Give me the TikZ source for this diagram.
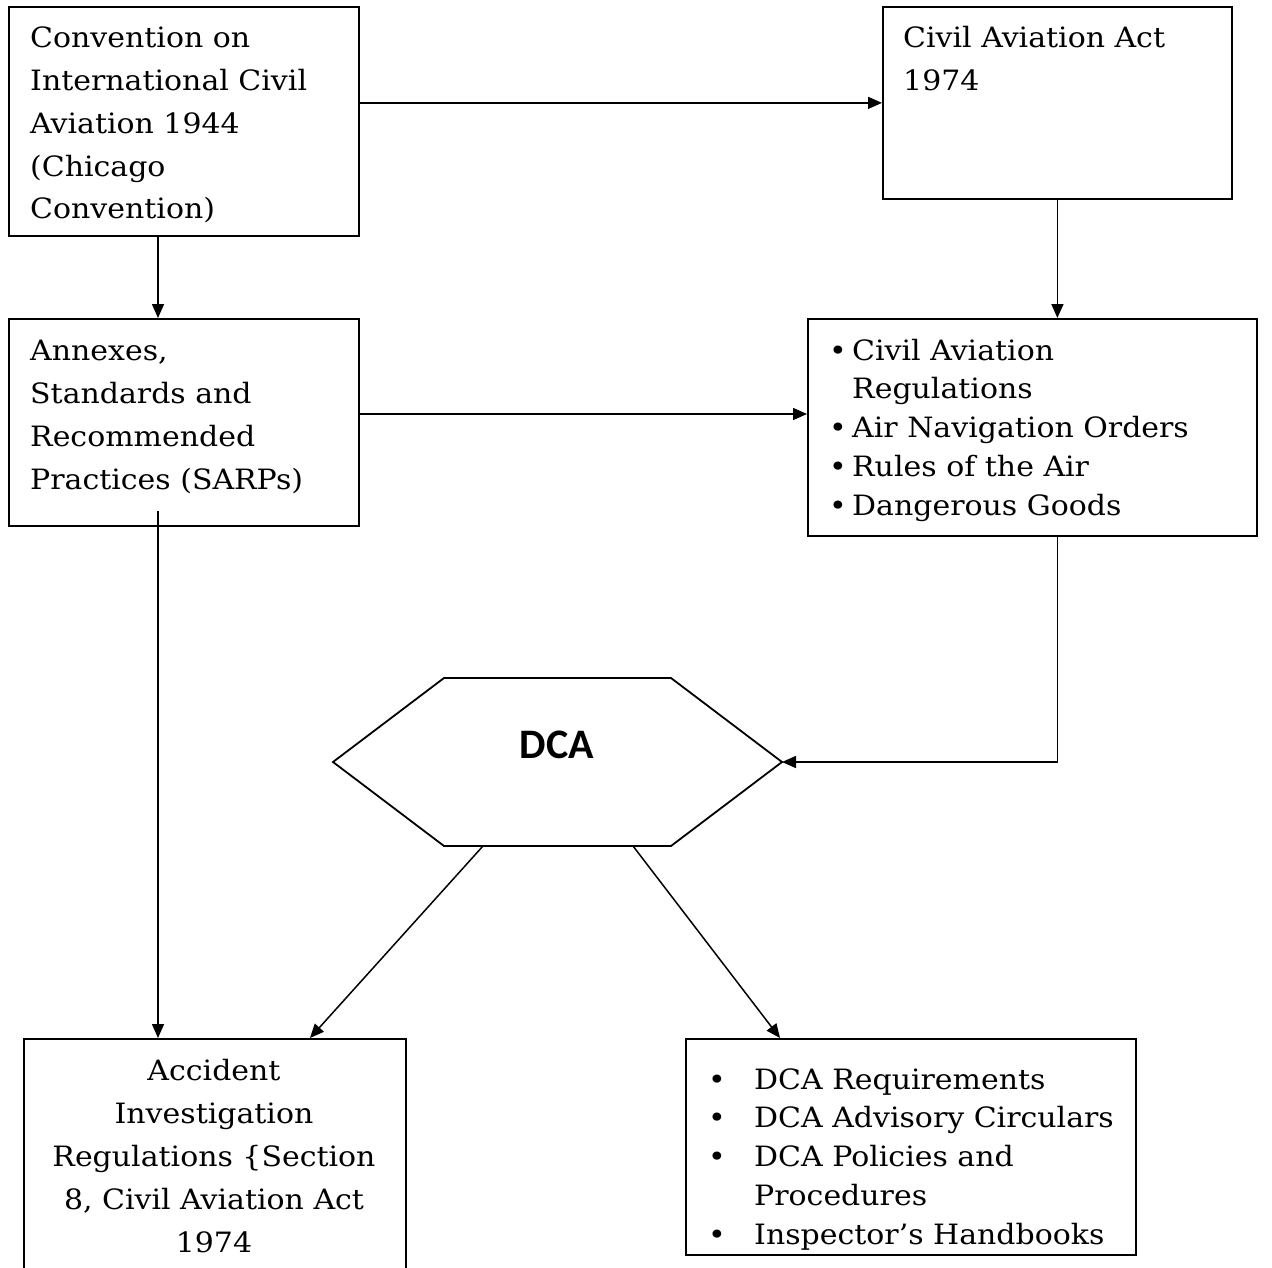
\documentclass[tikz,border=0pt]{standalone}
\usepackage{fontspec}
\setmainfont{DejaVu Serif}[FakeStretch=1.07]
\newfontfamily\dcafont{Carlito}
\usetikzlibrary{arrows.meta}
\begin{document}
\begin{tikzpicture}[x=1pt,y=-1pt,
  box/.style={draw,line width=1.8pt,inner sep=0pt,anchor=north west},
  arr/.style={line width=1.5pt,-{Triangle[length=14pt,width=12pt]}},
  txt/.style={inner sep=0pt,align=left,anchor=base west,font=\fontsize{28}{43}\selectfont},
  lst/.style={inner sep=0pt,align=left,anchor=base west,font=\fontsize{28}{38.7}\selectfont}]
\clip (0,0) rectangle (1272,1268);
\fill[white] (0,0) rectangle (1272,1268);
% boxes
\node[box,minimum width=350pt,minimum height=229pt] (A) at (8,6) {};
\node[box,minimum width=349pt,minimum height=192pt] (B) at (882,6) {};
\node[box,minimum width=350pt,minimum height=207pt] (C) at (8,318) {};
\node[box,minimum width=449pt,minimum height=217pt] (D) at (807,318) {};
\node[box,minimum width=382pt,minimum height=260pt] (E) at (23,1038) {};
\node[box,minimum width=450pt,minimum height=216pt] (F) at (685,1038) {};
% texts (anchored at the baseline of the last line)
\node[txt] (tA) at (30,219) {Convention on\\International Civil\\Aviation 1944\\(Chicago\\Convention)};
\node[txt] (tB) at (903,91) {Civil Aviation Act\\1974};
\node[txt] (tC) at (30,489) {Annexes,\\Standards and\\Recommended\\Practices (SARPs)};
\node[lst] (tD) at (829,515) {\makebox[23pt][l]{•}Civil Aviation\\\hspace*{23pt}Regulations\\\makebox[23pt][l]{•}Air Navigation Orders\\\makebox[23pt][l]{•}Rules of the Air\\\makebox[23pt][l]{•}Dangerous Goods};
\node[txt,align=center,anchor=base] (tE) at (214,1252) {Accident\\Investigation\\Regulations \{Section\\8, Civil Aviation Act\\1974};
\node[lst] (tF) at (708,1244) {\makebox[46pt][l]{•}DCA Requirements\\\makebox[46pt][l]{•}DCA Advisory Circulars\\\makebox[46pt][l]{•}DCA Policies and\\\hspace*{46pt}Procedures\\\makebox[46pt][l]{•}Inspector’s Handbooks};
% hexagon
\coordinate (hexL) at (333,762);
\coordinate (hexTL) at (444,678);
\coordinate (hexTR) at (671,678);
\coordinate (hexR) at (782,762);
\coordinate (hexBRc) at (671,846);
\coordinate (hexBLc) at (444,846);
\draw[line width=1.8pt] (hexL) -- (hexTL) -- (hexTR) -- (hexR) -- (hexBRc) -- (hexBLc) -- cycle;
\node[inner sep=0pt,font=\dcafont\bfseries\fontsize{42}{42}\selectfont] (dca) at (557,745) {DCA};
% connector helpers
\coordinate (colL) at (158,0);
\coordinate (rowC) at (0,414);
\coordinate (cStart) at (158,511);
\coordinate (hexBL) at (483,846);
\coordinate (hexBR) at (633,846);
\coordinate (eIn) at (310,1038);
\coordinate (fIn) at (780,1038);
% connectors
\draw[arr] (A.east |- B.west) -- (B.west);
\draw[arr] (A.south -| colL) -- (C.north -| colL);
\draw[arr] (B.south) -- (B.south |- D.north);
\draw[arr] (C.east |- rowC) -- (D.west |- rowC);
\draw[arr] (cStart) -- (E.north -| colL);
\draw[arr] (B.south |- D.south) -- (B.south |- hexR) -- (hexR);
\draw[arr] (hexBL) -- (eIn);
\draw[arr] (hexBR) -- (fIn);
\end{tikzpicture}
\end{document}
